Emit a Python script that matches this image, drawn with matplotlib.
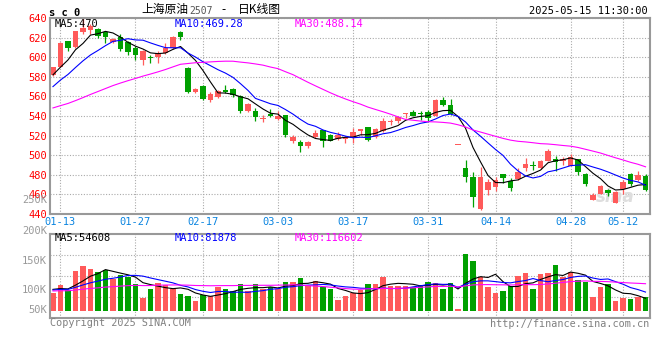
import matplotlib
matplotlib.use('Agg')
import matplotlib.pyplot as plt
import pandas as pd

# daily bars 2025-01-10 .. 2025-05-15
opens = [582, 590.5, 616.6, 610, 625.4, 627.8, 628.5, 626, 615.2, 620.3,
         615.3, 609.8, 597.3, 600.5, 600, 604, 609, 626, 589.3, 564,
         570.6, 556.3, 559.7, 566.5, 567.5, 560.4, 545.2, 545.1, 537, 542,
         537, 541, 514.8, 513.8, 509.7, 518.5, 525.7, 520.6, 516.2, 516.5,
         517.9, 524.7, 528.3, 518.3, 524.7, 533.8, 534.8, 541.8, 543.7, 542.2,
         543.7, 540.3, 556.3, 551.2, 510.4, 486.6, 477.5, 444.7, 464.5, 467.9,
         480.5, 474, 475.7, 487.2, 489.3, 486.6, 494.5, 496, 494.4, 489,
         496, 480.8, 454.3, 460.4, 464.5, 451.6, 465.5, 480.5, 474.7, 478.8]
highs = [590.5, 616, 617, 627, 639.7, 634, 630, 627, 620, 623.4,
         617, 611, 607, 602, 606, 615, 622, 626.5, 590, 569,
         572, 564, 567, 571.6, 568.5, 561, 553, 548, 541, 547,
         545, 541.5, 520.4, 515.5, 514, 525.7, 526, 521.5, 523.4, 519.5,
         528, 526.6, 529, 527.5, 537.7, 536.5, 540.5, 543.5, 546, 545,
         546, 557.3, 559.7, 557.3, 510.4, 495, 483.2, 488.3, 475.7, 478,
         480.8, 476.5, 486.6, 496.8, 493.6, 495, 506.3, 499, 498.4, 500.8,
         496.5, 482.2, 461, 469.6, 465.5, 463.5, 474.7, 481.5, 483.9, 480.5]
lows = [581, 589.5, 606, 609, 623.7, 624, 620, 615, 614, 606.4,
        602, 597, 592, 594, 594, 603, 608, 617.5, 563.5, 563,
        556, 554, 558, 563, 559, 543, 544, 535, 534, 539,
        536, 519, 512.5, 503, 507.7, 518, 508, 514, 515.5, 512,
        512, 520.6, 514.5, 517.5, 523.5, 530.5, 533, 537.5, 539.5, 536,
        535, 539.5, 550.5, 541, 510.4, 473, 447.5, 444, 459.4, 463.5,
        471.3, 463.5, 475, 483.9, 484.5, 486, 494, 484, 489.6, 488.5,
        480, 468.9, 454, 460, 458, 451.5, 460, 468.9, 474, 463]
closes = [589.5, 615, 609, 626.8, 630, 632, 622, 621, 618.6, 608.5,
          605.8, 602.4, 606.4, 599, 604.6, 609, 621, 621, 565, 567.5,
          557.5, 562.4, 565.6, 564, 561, 545, 552.2, 539.3, 538.2, 539.5,
          540.3, 520.6, 518.9, 509.7, 513.8, 522.3, 515, 514.6, 520.6, 518.9,
          523.4, 526.4, 515.5, 527.2, 534.8, 534.4, 539.3, 542.2, 540.3, 541.8,
          537.7, 556.3, 551.2, 542, 510.4, 478, 457.7, 478, 472.3, 474.7,
          477, 466.8, 483.2, 491, 489, 494, 504.3, 493.4, 496, 498.5,
          483.2, 470.6, 459.4, 468.6, 461.1, 462.8, 473, 470.3, 479.8, 464.5]
# volume in thousands of lots
volumes_k = [79, 113, 91, 177, 197, 184, 170, 180, 138, 158,
             147, 118, 57, 96, 124, 113, 96, 73, 66, 42,
             69, 65, 103, 96, 88, 118, 88, 118, 96, 103,
             96, 128, 128, 143, 109, 131, 106, 97, 47, 65,
             76, 91, 118, 118, 149, 109, 109, 110, 106, 113,
             127, 124, 96, 124, 7, 251, 220, 149, 106, 79,
             87, 110, 153, 168, 96, 162, 168, 202, 150, 171,
             135, 127, 62, 106, 118, 44, 54, 52, 62, 61]

# bars before the window (not drawn), estimated so the MA lines start where the chart's do
prev_closes = [545, 542, 540, 538, 535, 532, 530, 528, 531, 533,
               535, 534, 536, 538, 537, 540, 542, 541, 544, 546,
               548, 552, 556, 562, 572, 576, 572, 575, 597.5]
prev_volumes_k = [82, 88, 85, 79, 90, 86, 83, 81, 87, 84,
                  80, 89, 85, 83, 88, 86, 82, 84, 87, 85,
                  84, 90, 86, 92, 88, 95, 99, 94, 103]

date_labels = ['01-13', '01-27', '02-17', '03-03', '03-17', '03-31', '04-14', '04-28', '05-12']
date_index = [1, 11, 20, 30, 40, 50, 59, 69, 76]
price_ticks = [640, 620, 600, 580, 560, 540, 520, 500, 480, 460, 440]
vol_tick_text = ['250K', '200K', '150K', '100K', '50K']
ma_names = ['MA5', 'MA10', 'MA30']
ma_windows = [5, 10, 30]
ma_last_price = [470, 469.28, 488.14]
ma_last_vol = [54608, 81878, 116602]

RED = '#ff5a5a'
GREEN = '#00a000'
MA_COLORS = ['black', '#0000ff', '#ff00ff']
GRID = '#aaaaaa'
BORDER = '#999999'
MONO = 'DejaVu Sans Mono'
CJK = ['Noto Sans CJK SC', 'DejaVu Sans']

W, H = 660, 360


def fx(x):
    return x / W


def fy(y):
    return 1 - y / H


n = len(closes)
xs = list(range(n))
colors = [RED if c >= o else GREEN for o, c in zip(opens, closes)]

c_all = pd.Series(prev_closes + closes)
v_all = pd.Series(prev_volumes_k + volumes_k)
price_ma = [c_all.rolling(w).mean().iloc[-n:].values for w in ma_windows]
vol_ma = [v_all.rolling(w).mean().iloc[-n:].values for w in ma_windows]

fig = plt.figure(figsize=(6.6, 3.6), dpi=100)
fig.patch.set_facecolor('white')

ax1 = fig.add_axes([fx(50.5), fy(214), fx(599), 196 / H])
ax2 = fig.add_axes([fx(50.5), fy(318), fx(599), 84 / H])

for ax in (ax1, ax2):
    ax.set_xlim(-0.33, 79.53)
    for s in ax.spines.values():
        s.set_color(BORDER)
        s.set_linewidth(1.5)
    ax.set_axisbelow(True)
    ax.tick_params(length=0)

# price panel
ax1.set_ylim(440, 640)
ax1.set_yticks(price_ticks)
ax1.set_yticklabels([str(t) for t in price_ticks], color='#ff0000',
                    fontsize=7.5, family=MONO)
ax1.set_xticks(date_index)
ax1.set_xticklabels(date_labels, color='#0a84e0', fontsize=7.5, family=MONO)
ax1.tick_params(axis='y', pad=2.5)
ax1.tick_params(axis='x', pad=2)
ax1.grid(True, color=GRID, linestyle=(0, (1, 1.5)), linewidth=0.8)

body_low = [min(o, c) for o, c in zip(opens, closes)]
body_h = [max(abs(c - o), 1.0) for o, c in zip(opens, closes)]
ax1.vlines(xs, lows, highs, colors=colors, linewidth=0.9, zorder=2)
ax1.bar(xs, body_h, bottom=body_low, width=0.72, color=colors, linewidth=0, zorder=2)
for ma, col in zip(price_ma, MA_COLORS):
    ax1.plot(xs, ma, color=col, linewidth=0.8, zorder=3)

ax1.text(0.975, 0.04, 'sina', transform=ax1.transAxes, ha='right', va='bottom',
         fontsize=12, fontweight='bold', style='italic', color='#dedede', zorder=1)

# volume panel
vlo, vhi = -32.8, 339.2
ax2.set_ylim(vlo, vhi)
step = (vhi - vlo) / 4
ax2.set_yticks([vlo + step, vlo + 2 * step, vlo + 3 * step])
ax2.set_yticklabels([])
ax2.set_xticks(date_index)
ax2.set_xticklabels([])
ax2.grid(True, color=GRID, linestyle=(0, (1, 1.5)), linewidth=0.8)
ax2.bar(xs, volumes_k, width=0.76, color=colors, linewidth=0, zorder=2)
for ma, col in zip(vol_ma, MA_COLORS):
    ax2.plot(xs, ma, color=col, linewidth=0.8, zorder=3)

# volume axis labels sit where the source chart prints them
for txt, ypx in zip(vol_tick_text, [200, 230.7, 261, 290.3, 310.3]):
    fig.text(fx(47), fy(ypx), txt, ha='right', va='center', fontsize=7.5,
             family=MONO, color='#999999')

# legends
for name, val, col, xpx in zip(ma_names, ma_last_price, MA_COLORS, [54.5, 174.5, 295]):
    fig.text(fx(xpx), fy(24), f'{name}:{val:g}', ha='left', va='center',
             fontsize=7.5, family=MONO, color=col)
for name, val, col, xpx in zip(ma_names, ma_last_vol, MA_COLORS, [54.5, 174.5, 295]):
    fig.text(fx(xpx), fy(238), f'{name}:{val:g}', ha='left', va='center',
             fontsize=7.5, family=MONO, color=col)

# header
fig.text(fx(49), fy(12.5), 's c 0', ha='left', va='center', fontsize=7.5,
         family=MONO, fontweight='bold', color='black')
fig.text(fx(141.5), fy(9.5), '上海原油', ha='left', va='center', fontsize=8.5,
         family=CJK, color='black')
fig.text(fx(189), fy(10.5), '2507', ha='left', va='center', fontsize=7,
         family=MONO, color='#555555')
fig.text(fx(221), fy(9.5), '-', ha='left', va='center', fontsize=8.5,
         family=CJK, color='black')
fig.text(fx(238), fy(9.5), '日K线图', ha='left', va='center', fontsize=8.5,
         family=CJK, color='black')
fig.text(fx(648), fy(11.5), '2025-05-15 11:30:00', ha='right', va='center',
         fontsize=7.5, family=MONO, color='black')

# footer
fig.text(fx(50), fy(323), 'Copyright 2025 SINA.COM', ha='left', va='center',
         fontsize=7.3, family=MONO, color='#808080')
fig.text(fx(649), fy(324), 'http://finance.sina.com.cn', ha='right', va='center',
         fontsize=7.3, family=MONO, color='#808080')

fig.savefig('out.png', dpi=100, facecolor='white')
